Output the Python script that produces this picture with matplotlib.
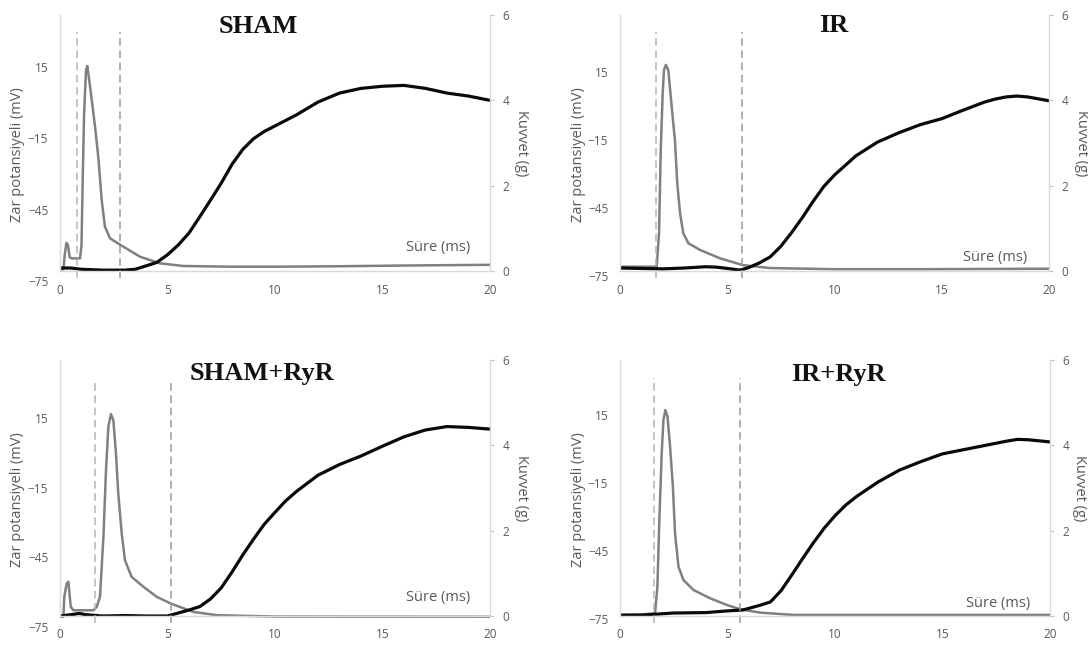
import matplotlib
matplotlib.use('Agg')
import matplotlib.pyplot as plt

plt.rcParams['font.family'] = ['Open Sans', 'DejaVu Sans']

# ---- data ----
# membrane potential (mV, grey) and force (g, black) vs time (ms)

sham_t_ap = [0, 0.16, 0.22, 0.3, 0.37, 0.45, 0.55, 0.93, 1.0, 1.05, 1.12, 1.21, 1.27, 1.4, 1.63, 1.78,
             1.94, 2.09, 2.33, 2.82, 3.72, 4.65, 5.74, 8, 10, 13, 16, 20]
sham_ap = [-70.4, -70, -64, -59, -60, -65, -65.5, -65.5, -60, -35, -5, 13.6, 15.3, 6.6, -10.2, -22.8,
           -41, -52.2, -57.1, -59.9, -64.8, -67.6, -68.7, -69, -69, -68.8, -68.5, -68.2]
sham_t_f = [0, 0.5, 1, 2, 3, 3.5, 4, 4.5, 5, 5.5, 6, 6.5, 7, 7.5, 8, 8.5, 9, 9.5, 10, 11, 12, 13, 14,
            15, 16, 17, 18, 19, 20]
sham_f = [0.07, 0.07, 0.04, 0.02, 0.02, 0.04, 0.12, 0.2, 0.38, 0.61, 0.89, 1.27, 1.66, 2.06, 2.5,
          2.85, 3.1, 3.27, 3.4, 3.66, 3.96, 4.17, 4.28, 4.33, 4.35, 4.28, 4.17, 4.1, 4.0]
sham_marks = [0.8, 2.8]

ir_t_ap = [0, 1.0, 1.71, 1.82, 1.9, 1.99, 2.05, 2.14, 2.25, 2.41, 2.56, 2.67, 2.8, 2.95, 3.19, 3.73,
           4.66, 5.72, 7, 10, 14, 20]
ir_ap = [-70.9, -70.9, -70.9, -56.2, -19.5, 5.5, 15.7, 18, 15.7, -0.4, -15.1, -34.2, -47.4, -56.2,
         -60.6, -63.5, -67.2, -70.2, -71.5, -72, -72, -71.8]
ir_t_f = [0, 1, 2, 3, 4, 4.5, 5, 5.6, 6, 6.5, 7, 7.5, 8, 8.5, 9, 9.5, 10, 11, 12, 13, 14, 15, 16, 17,
          17.5, 18, 18.5, 19, 20]
ir_f = [0.07, 0.06, 0.05, 0.07, 0.1, 0.09, 0.06, 0.02, 0.08, 0.19, 0.33, 0.58, 0.9, 1.25, 1.63, 1.98,
        2.25, 2.7, 3.02, 3.24, 3.43, 3.57, 3.77, 3.96, 4.03, 4.08, 4.1, 4.08, 3.99]
ir_marks = [1.7, 5.7]

shamr_t_ap = [0, 0.16, 0.2, 0.31, 0.39, 0.5, 0.62, 1.55, 1.71, 1.86, 2.02, 2.14, 2.25, 2.37, 2.48, 2.6,
              2.71, 2.87, 3.02, 3.33, 3.88, 4.5, 5.15, 6.2, 7.29, 10, 20]
shamr_ap = [-70.6, -70.6, -62, -56.3, -55.5, -66.3, -67.8, -67.8, -66.3, -62, -36.2, -7.4, 11.3, 16.7,
            14.1, 0.2, -17.5, -34.7, -46.2, -53.4, -57.7, -62, -64.9, -68.5, -69.9, -70.5, -70.6]
shamr_t_f = [0, 0.5, 0.9, 1.2, 2, 3, 4, 5, 5.5, 6, 6.5, 7, 7.5, 8, 8.5, 9, 9.5, 10, 10.5, 11, 12, 13,
             14, 15, 16, 17, 18, 19, 20]
shamr_f = [0.0, 0.03, 0.06, 0.03, 0.0, 0.01, 0.0, 0.0, 0.07, 0.14, 0.22, 0.4, 0.66, 1.03, 1.43, 1.8,
           2.15, 2.43, 2.7, 2.92, 3.3, 3.55, 3.75, 3.98, 4.2, 4.36, 4.44, 4.42, 4.38]
shamr_marks = [1.65, 5.15]

irr_t_ap = [0, 1.0, 1.63, 1.74, 1.83, 1.94, 2.02, 2.11, 2.21, 2.33, 2.46, 2.56, 2.72, 2.95, 3.42, 4.2,
            4.97, 5.59, 6.53, 8.08, 20]
irr_ap = [-73.2, -73, -72.5, -60.7, -31.3, -1.9, 12.8, 17.2, 14.3, 1.0, -16.6, -37.2, -51.9, -57.8,
          -62.2, -65.9, -68.8, -70.7, -72.2, -73.2, -73.2]
irr_t_f = [0, 1, 2.5, 4, 5, 5.7, 6, 6.5, 7, 7.5, 8, 8.5, 9, 9.5, 10, 10.5, 11, 12, 13, 14, 15, 16, 17,
           18, 18.5, 19, 20]
irr_f = [0.02, 0.02, 0.07, 0.08, 0.12, 0.14, 0.18, 0.25, 0.33, 0.6, 0.97, 1.35, 1.72, 2.06, 2.35, 2.6,
         2.8, 3.14, 3.42, 3.62, 3.8, 3.9, 4.0, 4.1, 4.14, 4.13, 4.08]
irr_marks = [1.6, 5.6]

ap_ticks = [-75, -45, -15, 15]
f_ticks = [0, 2, 4, 6]
t_ticks = [0, 5, 10, 15, 20]

W, H = 1088, 648
fig = plt.figure(figsize=(W / 100, H / 100), dpi=100)

LBL = '#595959'
AXC = '#d9d9d9'


def box(x0, x1, ytop, ybot):
    return [x0 / W, 1 - ybot / H, (x1 - x0) / W, (ybot - ytop) / H]


def panel(x0, x1, yb, l75, l15, t_ap, ap, t_f, f, marks, mark_top, title, tpos, spos, zx, kx):
    # left axis (mV), own pixel scale as in the picture
    scale = (l75 - l15) / 90.0
    top = yb - 258
    ax_l = fig.add_axes(box(x0, x1, top, l75))
    ax_l.set_xlim(0, 20)
    ax_l.set_ylim(-75, -75 + (l75 - top) / scale)
    for s in ax_l.spines.values():
        s.set_visible(False)
    ax_l.xaxis.set_visible(False)
    ax_l.set_yticks(ap_ticks)
    ax_l.tick_params(axis='y', length=0, pad=8.5, labelsize=8.5, labelcolor=LBL)
    ax_l.patch.set_visible(False)
    ax_l.plot(t_ap, ap, color='#808080', lw=1.8, solid_joinstyle='round')

    # right axis (g) + time axis
    ax_r = fig.add_axes(box(x0, x1, yb - 256, yb))
    ax_r.set_xlim(0, 20)
    ax_r.set_ylim(0, 6)
    ax_r.patch.set_visible(False)
    ax_r.spines['top'].set_visible(False)
    for k in ['left', 'right', 'bottom']:
        ax_r.spines[k].set_color(AXC)
        ax_r.spines[k].set_linewidth(1.0)
    ax_r.yaxis.tick_right()
    ax_r.set_yticks(f_ticks)
    ax_r.set_xticks(t_ticks)
    ax_r.tick_params(axis='y', length=3, color='#bfbfbf', pad=6, labelsize=8.5, labelcolor=LBL)
    ax_r.tick_params(axis='x', length=0, pad=9, labelsize=8.5, labelcolor=LBL)
    ax_r.plot(t_f, f, color='#0a0a0a', lw=2.3, solid_joinstyle='round')

    cols = ['#b4b4b4', '#9a9a9a']
    for m, c in zip(marks, cols):
        ax_r.plot([m, m], [-0.16, mark_top], color=c, lw=1.1, ls=(0, (5, 3)), clip_on=False)

    fig.text(tpos[0] / W, 1 - tpos[1] / H, title, family='Liberation Serif', weight='bold',
             fontsize=19, ha='center', va='baseline', color='#111111')
    fig.text(spos[0] / W, 1 - spos[1] / H, 'Süre (ms)', fontsize=10.5, color=LBL,
             ha='right', va='center')
    fig.text(zx / W, 1 - (yb - 116) / H, 'Zar potansiyeli (mV)', fontsize=10.5, color=LBL,
             rotation=90, ha='center', va='center')
    fig.text(kx / W, 1 - (yb - 128) / H, 'Kuvvet (g)', fontsize=10.5, color=LBL,
             rotation=270, ha='center', va='center')


panel(60, 490, 271, 281, 66.7, sham_t_ap, sham_ap, sham_t_f, sham_f, sham_marks, 5.6,
      'SHAM', (258, 33), (470, 247), 18, 521)
panel(620, 1049, 271, 276, 71.7, ir_t_ap, ir_ap, ir_t_f, ir_f, ir_marks, 5.6,
      'IR', (834, 32), (1027, 257), 579, 1081)
panel(60, 490, 616, 627, 418, shamr_t_ap, shamr_ap, shamr_t_f, shamr_f, shamr_marks, 5.55,
      'SHAM+RyR', (262, 380), (470, 597), 18, 521)
panel(620, 1050, 616, 619, 415, irr_t_ap, irr_ap, irr_t_f, irr_f, irr_marks, 5.58,
      'IR+RyR', (838, 381), (1030, 603), 579, 1080)

fig.savefig('out.png', dpi=100, facecolor='white')
